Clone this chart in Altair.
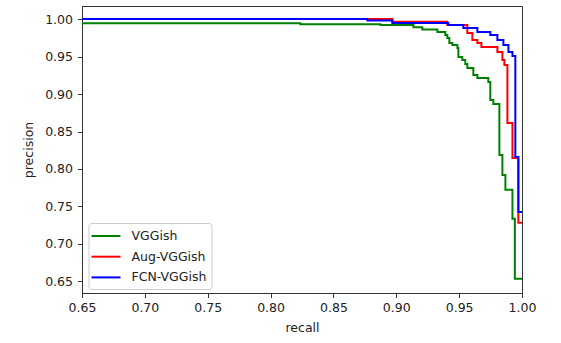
import altair as alt
import pandas as pd

models = ["VGGish", "Aug-VGGish", "FCN-VGGish"]
colors = ["#008000", "#ff0000", "#0000ff"]

vgg_recall = [0.65, 0.8237, 0.8873, 0.9136, 0.9207, 0.9327, 0.9390, 0.9406, 0.9422,
              0.9446, 0.9486, 0.9494, 0.9525, 0.9549, 0.9565, 0.9613, 0.9645, 0.9732,
              0.9748, 0.9772, 0.9820, 0.9844, 0.9868, 0.9924, 0.9943, 1.0]
vgg_precision = [0.9943, 0.9929, 0.9920, 0.9889, 0.9860, 0.9827, 0.9787, 0.9747, 0.9680,
                 0.9654, 0.9614, 0.9494, 0.9454, 0.9400, 0.9347, 0.9254, 0.9214, 0.9161,
                 0.8921, 0.8867, 0.8188, 0.7921, 0.7722, 0.7335, 0.6536, 0.6536]

aug_recall = [0.65, 0.8969, 0.9406, 0.9565, 0.9605, 0.9645, 0.9677, 0.9804, 0.9844,
              0.9860, 0.9884, 0.9924, 0.9971, 1.0]
aug_precision = [1.0, 0.9964, 0.9920, 0.9813, 0.9720, 0.9680, 0.9627, 0.9560, 0.9454,
                 0.9387, 0.8614, 0.8148, 0.7282, 0.7282]

fcn_recall = [0.65, 0.8770, 0.8969, 0.9414, 0.9533, 0.9645, 0.9748, 0.9804, 0.9852,
              0.9892, 0.9924, 0.9947, 0.9971, 1.0]
fcn_precision = [1.0, 0.9980, 0.9947, 0.9920, 0.9880, 0.9827, 0.9787, 0.9720, 0.9654,
                 0.9560, 0.9507, 0.8161, 0.7428, 0.7428]

x_ticks = [0.65, 0.70, 0.75, 0.80, 0.85, 0.90, 0.95, 1.00]
y_ticks = [0.65, 0.70, 0.75, 0.80, 0.85, 0.90, 0.95, 1.00]

rows = []
for name, rs, ps in [("VGGish", vgg_recall, vgg_precision),
                     ("Aug-VGGish", aug_recall, aug_precision),
                     ("FCN-VGGish", fcn_recall, fcn_precision)]:
    for i, (r, p) in enumerate(zip(rs, ps)):
        rows.append({"model": name, "recall": r, "precision": p, "i": i})
df = pd.DataFrame(rows)

color = alt.Color("model:N", scale=alt.Scale(domain=models, range=colors),
                  legend=alt.Legend(title=None, orient="none", legendX=6.5, legendY=217,
                                    symbolType="M-2.07,0H2.07", symbolSize=196,
                                    symbolStrokeWidth=2, symbolOffset=4.5,
                                    labelFontSize=12.5, labelFont="DejaVu Sans", labelColor="#222",
                                    labelOffset=17.5, padding=5, rowPadding=5.7,
                                    strokeColor="#cccccc", fillColor="white", cornerRadius=3))

xenc = alt.X("recall:Q", scale=alt.Scale(domain=[0.65, 1.0], nice=False, zero=False),
             axis=alt.Axis(values=x_ticks, format=".2f", title="recall", grid=False,
                           labelFlush=False))
yenc = alt.Y("precision:Q", scale=alt.Scale(domain=[0.6346, 1.0174], nice=False, zero=False),
             axis=alt.Axis(values=y_ticks, format=".2f", title="precision", grid=False))

layers = []
for m in models:
    layers.append(
        alt.Chart(df).transform_filter(alt.datum.model == m)
        .mark_line(interpolate="step-after", strokeWidth=2, clip=True)
        .encode(x=xenc, y=yenc, color=color, order="i:Q")
    )

chart = alt.layer(*layers).properties(
    width=440, height=287,
    autosize="none",
    padding={"left": 82, "top": 6, "right": 39, "bottom": 50},
).configure_view(stroke="#333333", strokeWidth=1).configure_axis(
    domainColor="#333333", tickColor="#333333", tickSize=4.5, labelFontSize=12.5,
    labelFont="DejaVu Sans", labelColor="#222", titleFont="DejaVu Sans",
    titleFontSize=12.5, titleFontWeight="normal", titleColor="#222",
).configure_axisX(titlePadding=7, labelPadding=4).configure_axisY(titlePadding=9, labelPadding=5)

chart.save("out.html", embed_options={"renderer": "svg", "actions": False})
